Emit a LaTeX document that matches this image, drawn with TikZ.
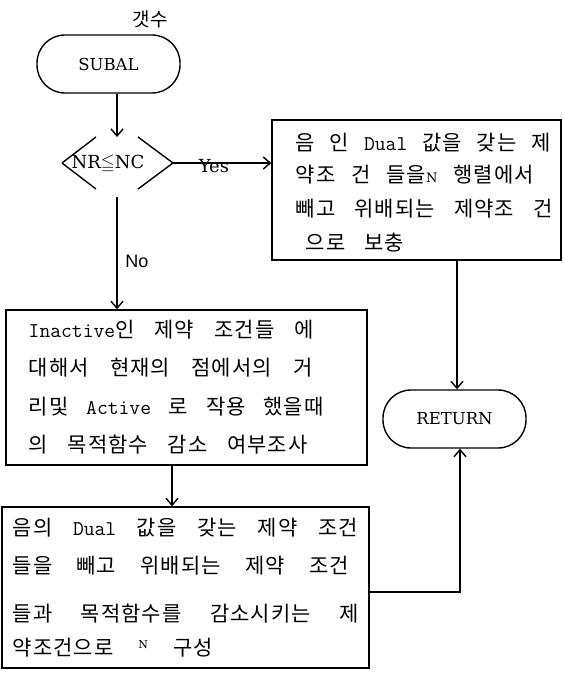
\documentclass[tikz,border=0pt]{standalone}
\usepackage{fontspec}
\usepackage{amssymb}
\newfontfamily\krfont[LetterSpace=5]{Noto Sans CJK KR}
\newfontfamily\serfont{DejaVu Serif}
\newfontfamily\hvfont{Liberation Sans}
\usetikzlibrary{arrows.meta,calc}
\newcommand\KT{\fontsize{21}{22}\krfont}
\newcommand\LT{\fontsize{21}{22}\ttfamily\addfontfeatures{FakeBold=0.8}}
\begin{document}
\begin{tikzpicture}[x=1pt,y=-1pt,line width=1.4pt,
  kt/.style={anchor=west,inner sep=0pt},
  term/.style={draw,rounded corners=28pt,inner sep=0pt,font=\fontsize{16.5}{17}\serfont},
  proc/.style={draw,inner sep=0pt},
  arr/.style={-{Straight Barb[length=7pt,width=12pt]}}]
\useasboundingbox (0,0) rectangle (563,674);
% labels and terminals
\node (cnt) at (150,19) {\fontsize{19}{19}\selectfont\krfont 갯수};
\node[term,minimum width=143pt,minimum height=58pt] (subal) at (108.5,64) {SUBAL};
\node[term,minimum width=143pt,minimum height=58pt] (ret) at (454.5,419) {RETURN};
% decision
\coordinate (dc) at (117,163);
\node[inner sep=0pt,font=\fontsize{18}{18}\serfont] (dtext) at (108,164) {NR$\leqq$NC};
\draw ($(dc)+(-55,0)$) -- ($(dc)+(-21,-26)$);
\draw ($(dc)+(-55,0)$) -- ($(dc)+(-21,26)$);
\draw ($(dc)+(56,0)$) -- ($(dc)+(21,-26)$);
\draw ($(dc)+(56,0)$) -- ($(dc)+(21,26)$);
\coordinate (dtop) at (117,137);
\coordinate (dbot) at (117,197);
\coordinate (dright) at (173,163);
% process boxes
\node[proc,minimum width=289pt,minimum height=140pt] (rb) at (416.5,190) {};
\node[proc,minimum width=361pt,minimum height=155pt] (mb) at (186.5,387.5) {};
\node[proc,minimum width=367pt,minimum height=161pt] (bb) at (185.5,587.5) {};
% labels on connectors
\node[inner sep=0pt,font=\fontsize{18}{18}\serfont] (yes) at (214,166) {Yes};
\node[inner sep=0pt,font=\fontsize{18}{18}\hvfont] (no) at (137,261) {No};
% connectors
\coordinate (c1) at (172,0);
\coordinate (c2) at (457,0);
\coordinate (j) at (460,592);
\draw[arr] (dtop |- subal.south) -- (dtop);
\draw[arr] (dright) -- (dright -| rb.west);
\draw[arr] (dbot) -- (dbot |- mb.north);
\draw[arr] (c2 |- rb.south) -- (c2 |- ret.north);
\draw[arr] (c1 |- mb.south) -- (c1 |- bb.north);
\draw[arr] (bb.east |- j) -- (j) -- (j |- ret.south);
% text right box
\node[kt] (r1) at (295,143) {\makebox[255pt][s]{\KT 음 인 {\LT Dual} 값을 갖는 제}};
\node[kt] (r2) at (295,175) {\makebox[238pt][s]{\KT 약조 건 들을{\fontsize{13}{13}\serfont N} 행렬에서}};
\node[kt] (r3) at (295,209) {\makebox[257pt][s]{\KT 빼고 위배되는 제약조 건}};
\node[kt] (r4) at (305,243) {\makebox[98pt][s]{\KT 으로 보충}};
% text middle box
\node[kt] (m1) at (28,330) {\makebox[285pt][s]{{\LT Inactive}\KT 인 제약 조건들 에}};
\node[kt] (m2) at (28,368) {\makebox[284pt][s]{\KT 대해서 현재의 점에서의 거}};
\node[kt] (m3) at (28,407) {\makebox[295pt][s]{\KT 리및 {\LT Active} 로 작용 했을때}};
\node[kt] (m4) at (28,445) {\makebox[279pt][s]{\KT 의 목적함수 감소 여부조사}};
% text bottom box
\node[kt] (b1) at (12,528) {\makebox[345pt][s]{\KT 음의 {\LT Dual} 값을 갖는 제약 조건}};
\node[kt] (b2) at (12,566) {\makebox[336pt][s]{\KT 들을 빼고 위배되는 제약 조건}};
\node[kt] (b3) at (12,614) {\makebox[346pt][s]{\KT 들과 목적함수를 감소시키는 제}};
\node[kt] (b4) at (12,648) {\makebox[200pt][s]{\KT 약조건으로 \raisebox{7pt}{\fontsize{11}{11}\serfont N} 구성}};
\end{tikzpicture}
\end{document}
